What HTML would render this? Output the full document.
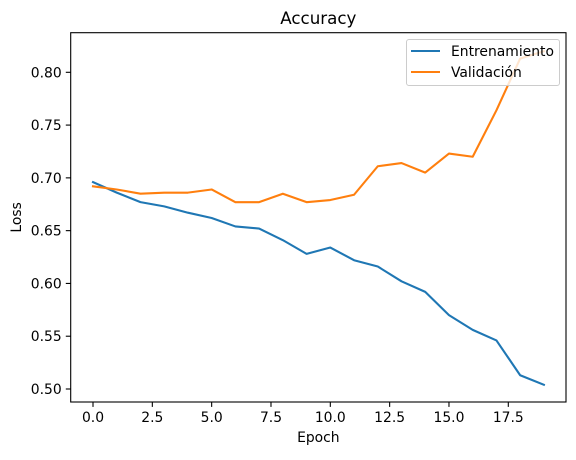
<!DOCTYPE html>
<html><head><meta charset="utf-8"><style>
body{margin:0;background:#fff;}
svg text{font-family:"DejaVu Sans","Liberation Sans",sans-serif;fill:#000;}
</style></head><body>
<svg id="chart" width="576" height="455" viewBox="0 0 576 455" xmlns="http://www.w3.org/2000/svg">
<rect width="576" height="455" fill="#fff"/>
<g id="plot"></g>
</svg>
<script>
const epochs=[0,1,2,3,4,5,6,7,8,9,10,11,12,13,14,15,16,17,18,19];
const trainValues=[0.696,0.686,0.677,0.673,0.667,0.662,0.654,0.652,0.641,0.628,0.634,0.622,0.616,0.602,0.592,0.570,0.556,0.546,0.513,0.504];
const valValues=[0.692,0.689,0.685,0.686,0.686,0.689,0.677,0.677,0.685,0.677,0.679,0.684,0.711,0.714,0.705,0.723,0.720,0.764,0.813,0.820];
const xTicks=[0,2.5,5,7.5,10,12.5,15,17.5];
const xTickLabels=["0.0","2.5","5.0","7.5","10.0","12.5","15.0","17.5"];
const yTicks=[0.50,0.55,0.60,0.65,0.70,0.75,0.80];
const yTickLabels=["0.50","0.55","0.60","0.65","0.70","0.75","0.80"];

const L=70.7,R=566,T=32.7,B=402;
const xs=v=>93+(v-0)*(508.3-93)/17.5;
const ys=v=>389-(v-0.5)*(389-72.3)/0.30;
const NS="http://www.w3.org/2000/svg";
const g=document.getElementById('plot');
function mk(tag,attrs,parent){const e=document.createElementNS(NS,tag);for(const k in attrs)e.setAttribute(k,attrs[k]);(parent||g).appendChild(e);return e;}

xTicks.forEach((t,i)=>{
  const l=mk('line',{x1:xs(t),x2:xs(t),y1:B,y2:B+4.9,stroke:'#000','stroke-width':1.1});
  
  
  const tx=mk('text',{x:xs(t),y:B+20,'font-size':13.9,'text-anchor':'middle'});
  tx.textContent=xTickLabels[i];
  
  
});
yTicks.forEach((t,i)=>{
  const l=mk('line',{x1:L-4.9,x2:L,y1:ys(t),y2:ys(t),stroke:'#000','stroke-width':1.1});
  
  
  const tx=mk('text',{x:L-9,y:ys(t)+5,'font-size':13.9,'text-anchor':'end'});
  tx.textContent=yTickLabels[i];
  
  
});
function series(vals,color,name){
  const p=mk('polyline',{points:epochs.map((e,i)=>xs(e)+','+ys(vals[i])).join(' '),fill:'none',stroke:color,'stroke-width':2.1,'stroke-linejoin':'round','stroke-linecap':'square'});
  
  
}
series(trainValues,'#1f77b4','train-line');
series(valValues,'#ff7f0e','validation-line');
const frame=mk('rect',{x:L,y:T,width:R-L,height:B-T,fill:'none',stroke:'#000','stroke-width':1.1});



const lg=mk('g',{});


mk('rect',{x:406.5,y:39.5,width:153,height:46,rx:2.5,fill:'#fff','fill-opacity':0.8,stroke:'#ccc'},lg);
mk('line',{x1:411,x2:440,y1:51,y2:51,stroke:'#1f77b4','stroke-width':2.1},lg);
mk('line',{x1:411,x2:440,y1:72,y2:72,stroke:'#ff7f0e','stroke-width':2.1},lg);
const t1=mk('text',{x:451,y:56,'font-size':13.9},lg);t1.textContent='Entrenamiento';


const t2=mk('text',{x:451,y:77,'font-size':13.9},lg);t2.textContent='Validación';



const title=mk('text',{x:(L+R)/2,y:24,'font-size':16.7,'text-anchor':'middle'});title.textContent='Accuracy';


const xl=mk('text',{x:(L+R)/2,y:442,'font-size':13.9,'text-anchor':'middle'});xl.textContent='Epoch';


const yl=mk('text',{x:0,y:0,'font-size':13.9,'text-anchor':'middle',transform:`translate(21,${(T+B)/2}) rotate(-90)`});yl.textContent='Loss';


</script>
</body></html>
